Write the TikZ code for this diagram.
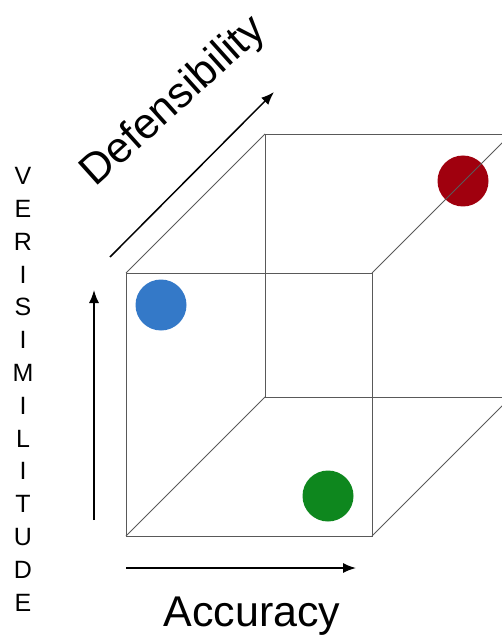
\documentclass[tikz,border=0pt]{standalone}
\usepackage{fontspec}
\setmainfont{Liberation Sans}
\usetikzlibrary{positioning,arrows.meta,calc}

\begin{document}
\begin{tikzpicture}[x=1pt,y=-1pt,
  edge/.style={draw=black!65,line width=0.9pt},
  axis/.style={-{Latex[length=13pt,width=10pt]},line width=1.5pt},
  dot/.style={circle,inner sep=0pt,minimum size=51pt},
  bigtext/.style={font=\fontsize{43}{43}\selectfont,inner sep=0pt},
  letter/.style={font=\fontsize{25}{25}\selectfont,inner sep=0pt}]

  \useasboundingbox (0,0) rectangle (502,636);
  \clip (0,0) rectangle (502,636);

  % cube corners
  \coordinate (ftl) at (126,273);
  \coordinate (ftr) at (372,273);
  \coordinate (fbl) at (126,536);
  \coordinate (fbr) at (372,536);
  \coordinate (btl) at (265,134);
  \coordinate (btr) at (511,134);
  \coordinate (bbl) at (265,397);
  \coordinate (bbr) at (511,397);

  % dots
  \node[dot,fill={rgb,255:red,52;green,121;blue,200}] (veri) at (161,305) {};
  \node[dot,fill={rgb,255:red,14;green,135;blue,30}] (accu) at (328,496) {};
  \node[dot,fill={rgb,255:red,160;green,0;blue,14}] (defe) at (463,181) {};

  % cube
  \draw[edge] (ftl) -- (ftr) -- (fbr) -- (fbl) -- cycle;
  \draw[edge] (btl) -- (btr) -- (bbr) -- (bbl) -- cycle;
  \draw[edge] (ftl) -- (btl);
  \draw[edge] (ftr) -- (btr);
  \draw[edge] (fbl) -- (bbl);
  \draw[edge] (fbr) -- (bbr);

  % axes
  \coordinate (vs) at (94,520);
  \coordinate (ve) at (94,290);
  \coordinate (hs) at (126,568);
  \coordinate (he) at (356,568);
  \coordinate (ds) at (110,257);
  \coordinate (de) at (274,92);
  \draw[axis] (vs) -- (ve);
  \draw[axis] (hs) -- (he);
  \draw[axis] (ds) -- (de);

  % labels
  \node[bigtext,anchor=base] (acclabel) at (252,626) {Accuracy};
  \node[bigtext,rotate=42] (deflabel) at (174,102) {Defensibility};
  \foreach \ch [count=\i from 0] in {V,E,R,I,S,I,M,I,L,I,T,U,D,E}
    \node[letter] (v\i) at (23,{176+32.8*\i}) {\ch};

\end{tikzpicture}
\end{document}
